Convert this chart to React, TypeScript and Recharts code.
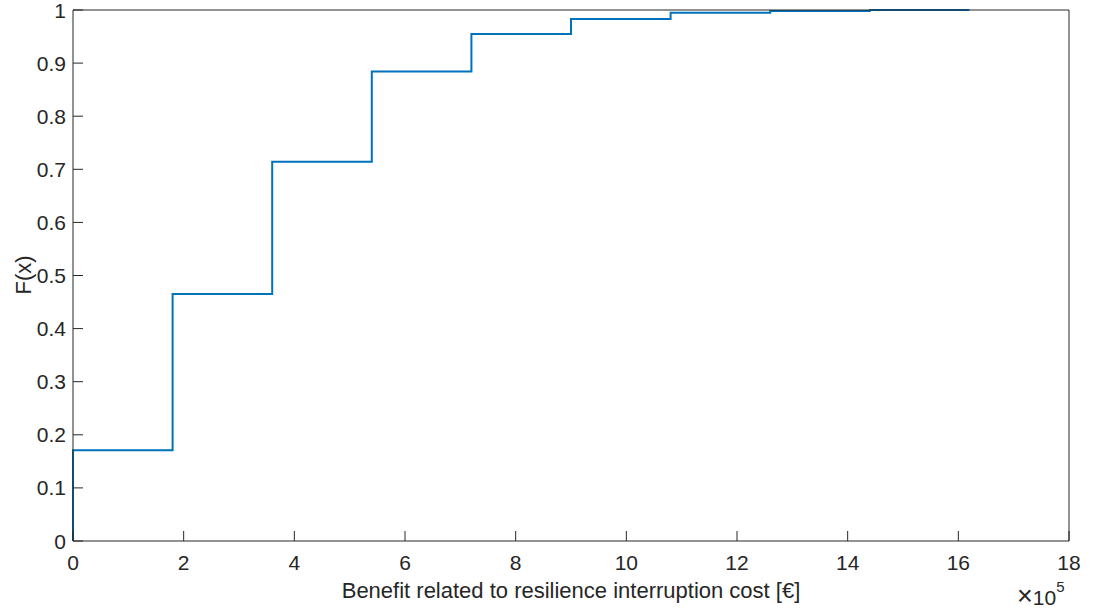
import { LineChart, Line, XAxis, YAxis } from 'recharts';

// empirical CDF, x in units of 10^5 €
const xValues = [0, 0, 1.8, 3.6, 5.4, 7.2, 9.0, 10.8, 12.6, 14.4, 16.2];
const fValues = [0, 0.171, 0.465, 0.714, 0.884, 0.955, 0.983, 0.995, 0.998, 1.0, 1.0];
const xTicks = [0, 2, 4, 6, 8, 10, 12, 14, 16, 18];
const yTicks = [0, 0.1, 0.2, 0.3, 0.4, 0.5, 0.6, 0.7, 0.8, 0.9, 1];

const data = xValues.map((x, i) => ({ x, f: fValues[i] }));

const W = 1093;
const H = 615;
const axisColor = '#262626';
const font = '"Liberation Sans", Arial, sans-serif';
const tickFont = 21;

const XTick = (props: any) => (
  <text
    x={props.x}
    y={props.y}
    dy="0.71em"
    textAnchor="middle"
    fill={axisColor}
    fontSize={tickFont}
    fontFamily={font}
  >
    {props.payload.value}
  </text>
);

const YTick = (props: any) => (
  <text
    x={props.x}
    y={props.y}
    dy="0.36em"
    textAnchor="end"
    fill={axisColor}
    fontSize={tickFont}
    fontFamily={font}
  >
    {props.payload.value}
  </text>
);

export default function App() {
  return (
    <div style={{ position: 'absolute', left: 0, top: 0, width: W, height: H, background: '#fff' }}>
      <LineChart width={W} height={H} data={data} margin={{ top: 0, right: 0, bottom: 0, left: 0 }}>
        <XAxis
          dataKey="x"
          type="number"
          domain={[0, 18]}
          ticks={xTicks}
          height={74}
          stroke={axisColor}
          tickSize={-10}
          tickMargin={24}
          tick={XTick}
          interval={0}
        />
        <XAxis
          xAxisId="top"
          orientation="top"
          dataKey="x"
          type="number"
          domain={[0, 18]}
          ticks={xTicks}
          height={10}
          stroke={axisColor}
          tickSize={-10}
          tick={false}
        />
        <YAxis
          type="number"
          domain={[0, 1]}
          ticks={yTicks}
          width={73}
          stroke={axisColor}
          tickSize={-10}
          tickMargin={17}
          tick={YTick}
          interval={0}
        />
        <YAxis
          yAxisId="right"
          orientation="right"
          type="number"
          domain={[0, 1]}
          ticks={yTicks}
          width={24}
          stroke={axisColor}
          tickSize={-10}
          tick={false}
        />
        <Line
          type="stepAfter"
          dataKey="f"
          stroke="#0072BD"
          strokeWidth={2}
          dot={false}
          isAnimationActive={false}
        />
      </LineChart>
      <svg
        width={W}
        height={H}
        style={{ position: 'absolute', left: 0, top: 0, pointerEvents: 'none' }}
        fontFamily={font}
        fill={axisColor}
      >
        <text x={23} y={275} transform="rotate(-90 23 275)" textAnchor="middle" dominantBaseline="central" fontSize={22}>
          F(x)
        </text>
        <text x={571} y={598} textAnchor="middle" fontSize={22}>
          Benefit related to resilience interruption cost [€]
        </text>
        <text x={1017} y={605} fontSize={21}>
          <tspan fontSize={27}>×</tspan>
          <tspan>10</tspan>
          <tspan dy={-13} fontSize={15}>5</tspan>
        </text>
      </svg>
    </div>
  );
}
